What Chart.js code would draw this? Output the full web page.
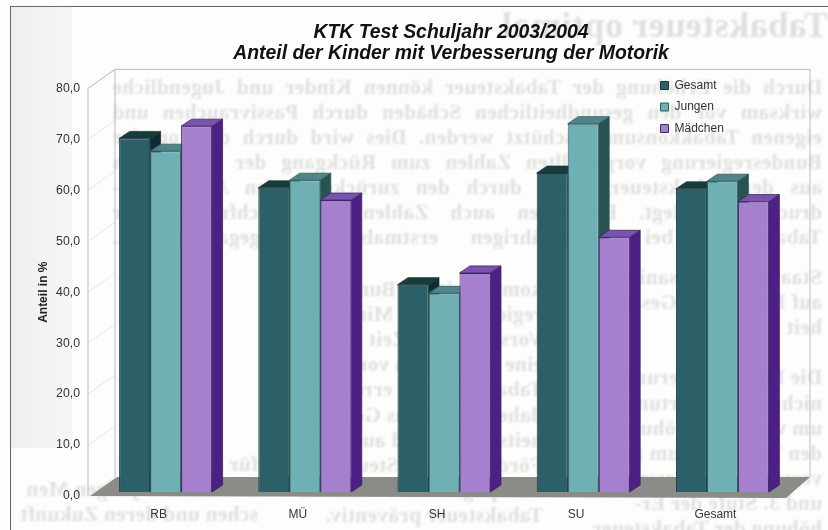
<!DOCTYPE html>
<html>
<head>
<meta charset="utf-8">
<style>
  html, body { margin: 0; padding: 0; background: #fdfdfc; overflow: hidden; }
  #page { position: relative; width: 828px; height: 530px; overflow: hidden; }
  #band { position: absolute; left: 10px; top: 6px; width: 62px; height: 442px;
          background: linear-gradient(to right, #eeeff0, #f6f6f6); }
  #ghost { position: absolute; left: 0; top: 0; width: 828px; height: 530px;
           transform: scaleX(-1); filter: blur(0.8px); color: #dfdfdf;
           font-family: "Liberation Serif", serif; font-weight: bold; letter-spacing: 0.5px; }
  #ghost div { position: absolute; white-space: nowrap; text-align: justify; text-align-last: justify; }
  #frame { position: absolute; left: 10px; top: 6px; right: -2px; bottom: -2px;
           border-top: 1.5px solid #666; border-left: 1.5px solid #666; }
  canvas { position: absolute; left: 0; top: 0; }
</style>
</head>
<body>
<div id="page">
  <div id="band"></div>
  <div id="ghost"></div>
  <div id="frame"></div>
  <canvas id="chart" width="828" height="530"></canvas>
</div>
<script src="https://cdn.jsdelivr.net/npm/chart.js@4"></script>
<script>
var titleLines = ['KTK Test Schuljahr 2003/2004', 'Anteil der Kinder mit Verbesserung der Motorik']
var yTitle = 'Anteil in %'
var categories = ['RB', 'MÜ', 'SH', 'SU', 'Gesamt']
var seriesNames = ['Gesamt', 'Jungen', 'Mädchen']
var gesamt = [69.4, 59.7, 40.7, 62.6, 59.5]
var jungen = [66.9, 61.2, 39.0, 72.3, 61.0]
var maedchen = [71.8, 57.3, 43.0, 50.0, 57.0]

var frontColors = ['#2b6068', '#6fb0b4', '#a67fcf']
var topColors = ['#173c3c', '#4f8488', '#7b52b1']
var sideColors = ['#0f2c36', '#285354', '#4e1f85']
var edgeColors = ['#1d3a3a', '#2f5a5c', '#3a2a60']

// show-through of the printed page behind the chart (mirrored in the scan)
var ghostHeading = 'Tabaksteuer optimal'
var ghostBody = [
  'Durch die Erhöhung der Tabaksteuer können Kinder und Jugendliche',
  'wirksam vor den gesundheitlichen Schäden durch Passivrauchen und',
  'eigenen Tabakkonsum geschützt werden. Dies wird durch die von der',
  'Bundesregierung vorgestellten Zahlen zum Rückgang der Einnahmen',
  'aus der Tabaksteuer, sowie durch den zurückgehenden Absatz ein-',
  'drucksvoll belegt. Es liegen auch Zahlen von Nachfragern der',
  'Tabakwaren bei 12-17-Jährigen erstmals zurückgegangen ist.'
]
var ghostCol1 = ['Staatshaushalt saniert', 'auf Kosten der Gesamt-', 'heit', '',
  'Die Bundesregierung', 'nicht alle Erwartungen,', 'um weitere Erhöhungen', 'den Tabakkonsum zu',
  'verringern, die zweite', 'und 3. Stufe der Er-', 'höhung der Tabaksteuer']
var ghostCol2 = ['kommt mit der Bundes-', 'regierung Frau Ministerin', 'Vorschlag der Zeit auf,', 'eine Prävention von',
  'Tabakwaren zu erreichen,', 'daher weiter das Gesund-', 'heitsressort und auch die', 'Förderung aus Steuern',
  'Kampagne sollte wirksam', 'Tabaksteuer präventiv.']
var ghostCol3 = ['für die Gesund', 'heit unserer jungen Men', 'schen und deren Zukunft']

function ghostLine(text, x, y, size, width) {
  var d = document.createElement('div')
  d.textContent = text
  d.style.left = x + 'px'
  d.style.top = y + 'px'
  d.style.fontSize = size + 'px'
  if (width) { d.style.width = width + 'px'; d.style.whiteSpace = 'normal' }
  document.getElementById('ghost').appendChild(d)
}
ghostLine(ghostHeading, 0, 4, 36)
ghostBody.forEach(function(t, i) { ghostLine(t, 6, 75 + i * 25, 21, 710) })
ghostCol1.forEach(function(t, i) { if (t) ghostLine(t, 6, 265 + i * 25.1, 21) })
ghostCol2.forEach(function(t, i) { ghostLine(t, 285, 277 + i * 25.1, 21) })
ghostCol3.forEach(function(t, i) { ghostLine(t, 570, 452 + i * 25.1, 21) })

var wallDx = 27
var wallDy = 19
var barDx = 10.5
var barDy = 7

function face(ctx, pts, fill) {
  ctx.beginPath()
  ctx.moveTo(pts[0][0], pts[0][1])
  for (var i = 1; i < pts.length; i++) ctx.lineTo(pts[i][0], pts[i][1])
  ctx.closePath()
  ctx.fillStyle = fill
  ctx.fill()
  ctx.stroke()
}

var threeD = {
  id: 'threeD',
  afterLayout: function(chart) {
    // title is centred on the plot, not the page; legend sits inside the wall
    chart.titleBlock.left += 55
    chart.titleBlock.right += 55
    chart.legend.left = 651
    chart.legend.right = 759
    chart.legend.top = 70
  },
  beforeDatasetsDraw: function(chart) {
    var ctx = chart.ctx, area = chart.chartArea, y = chart.scales.y
    var fl = area.left - 8, fr = area.right - 6
    var top = y.getPixelForValue(80), zero = y.getPixelForValue(0)
    ctx.save()
    ctx.lineWidth = 1
    ctx.strokeStyle = '#e6e6e6'
    y.ticks.forEach(function(t) {
      var p = y.getPixelForValue(t.value)
      ctx.beginPath()
      ctx.moveTo(fl, p)
      ctx.lineTo(fl + wallDx, p - wallDy)
      ctx.stroke()
    })
    ctx.strokeStyle = '#bcbcbc'
    ctx.beginPath()
    ctx.moveTo(fl, zero)
    ctx.lineTo(fl, top)
    ctx.lineTo(fl + wallDx, top - wallDy)
    ctx.lineTo(fr + 24, top - wallDy)
    ctx.lineTo(fr + 24, zero - wallDy)
    ctx.moveTo(fl + wallDx, top - wallDy)
    ctx.lineTo(fl + wallDx, zero - wallDy)
    ctx.stroke()
    ctx.beginPath()
    ctx.moveTo(fl + 2, zero)
    ctx.lineTo(fl + wallDx + 2, zero - wallDy)
    ctx.lineTo(fr + 24, zero - wallDy)
    ctx.lineTo(fr, zero + 2)
    ctx.closePath()
    ctx.fillStyle = '#8b8b87'
    ctx.fill()
    ctx.restore()
  },
  // bars are painted left to right below, so each one overlaps its left neighbour's side
  beforeDatasetDraw: function() {
    return false
  },
  afterDatasetsDraw: function(chart) {
    var ctx = chart.ctx
    chart.data.datasets.forEach(function(ds, i) {
      var meta = chart.getDatasetMeta(i)
      ctx.save()
      ctx.translate(0, -4)
      ctx.lineWidth = 0.8
      ctx.strokeStyle = edgeColors[i]
      meta.data.forEach(function(bar) {
        var l = bar.x - bar.width / 2, r = bar.x + bar.width / 2
        face(ctx, [[r, bar.y], [r + barDx, bar.y - barDy], [r + barDx, bar.base - barDy], [r, bar.base]], sideColors[i])
        face(ctx, [[l, bar.y], [l + barDx, bar.y - barDy], [r + barDx, bar.y - barDy], [r, bar.y]], topColors[i])
      })
      meta.controller.draw()
      ctx.restore()
    })
  }
}

var labelFont = { family: '"Liberation Sans", Arial, sans-serif', size: 12 }

new Chart(document.getElementById('chart'), {
  type: 'bar',
  data: {
    labels: categories,
    datasets: [gesamt, jungen, maedchen].map(function(values, i) {
      return {
        label: seriesNames[i],
        data: values,
        backgroundColor: frontColors[i],
        borderColor: edgeColors[i],
        borderWidth: 1,
        barPercentage: 1,
        categoryPercentage: 0.668
      }
    })
  },
  options: {
    responsive: false,
    animation: false,
    layout: { padding: { right: 36 } },
    plugins: {
      tooltip: { enabled: false },
      title: {
        display: true,
        text: titleLines,
        color: '#111',
        font: { family: '"Liberation Sans", Arial, sans-serif', size: 19.4, weight: 'bold', style: 'italic', lineHeight: 1.08 },
        padding: { top: 22.5, bottom: 24 }
      },
      legend: {
        position: 'chartArea',
        align: 'start',
        labels: { boxWidth: 8, boxHeight: 8, padding: 9.5, color: '#333', font: labelFont }
      }
    },
    scales: {
      x: {
        grid: { display: false, drawTicks: false },
        border: { display: false },
        ticks: { color: '#333', font: labelFont, padding: 11, labelOffset: -7, maxRotation: 0 },
        afterFit: function(s) { s.height = 34 }
      },
      y: {
        min: 0,
        max: 80,
        grid: { display: false, drawTicks: false },
        border: { display: false },
        ticks: {
          stepSize: 10,
          color: '#333',
          padding: 16,
          font: { family: '"Liberation Sans", Arial, sans-serif', size: 12.3 },
          callback: function(v) { return v.toFixed(1).replace('.', ',') }
        },
        title: {
          display: true,
          text: yTitle,
          color: '#222',
          font: { family: '"Liberation Sans", Arial, sans-serif', size: 12, weight: 'bold' },
          padding: { top: 36, bottom: 0 }
        },
        afterFit: function(s) { s.width = 96 }
      }
    }
  },
  plugins: [threeD]
})
</script>
</body>
</html>
